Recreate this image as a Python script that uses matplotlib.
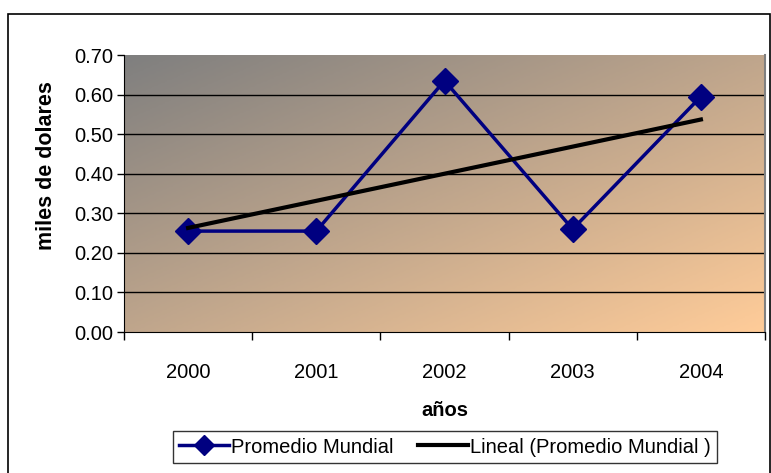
import numpy as np
import matplotlib
matplotlib.use("Agg")
import matplotlib.pyplot as plt
from matplotlib.colors import LinearSegmentedColormap
from matplotlib.patches import Rectangle

plt.rcParams['font.family'] = ['Liberation Sans', 'DejaVu Sans']

# data
anios = ['2000', '2001', '2002', '2003', '2004']
promedio = [0.255, 0.255, 0.635, 0.26, 0.595]
y_ticks = [0.0, 0.1, 0.2, 0.3, 0.4, 0.5, 0.6, 0.7]

x = np.arange(len(anios))
# linear trendline like Excel's "Lineal"
m, b = np.polyfit(x, promedio, 1)
tendencia = m * x + b

fig = plt.figure(figsize=(7.71, 4.73), dpi=100)
ax = fig.add_axes([124 / 771, 1 - 332 / 473, (765 - 124) / 771, (332 - 55) / 473])

# outer chart frame
fig.patches.append(Rectangle((8 / 771, -0.01), 762 / 771, 1 - 14 / 473 + 0.01,
                             transform=fig.transFigure, fill=False,
                             edgecolor='black', linewidth=1.2))

# diagonal gradient background (gray top-left -> peach bottom-right)
cmap = LinearSegmentedColormap.from_list('grad', ['#7f7f7f', '#ffcc99'])
u, v = np.meshgrid(np.linspace(0, 1, 300), np.linspace(0, 1, 200))
ax.imshow((u + v) / 2, cmap=cmap, extent=[0, 1, 0, 1], transform=ax.transAxes,
          aspect='auto', zorder=0)

ax.set_xlim(-0.5, 4.5)
ax.set_ylim(0, 0.7)

for yt in y_ticks[1:-1]:
    ax.axhline(yt, color='black', linewidth=1, zorder=1)

ax.plot(x, promedio, color='#000080', linewidth=2.5, marker='D', markersize=13,
        zorder=3, label='Promedio Mundial')
ax.plot(x, tendencia, color='black', linewidth=3, zorder=4,
        label='Lineal (Promedio Mundial )')

ax.set_yticks(y_ticks)
ax.set_yticklabels([f'{t:.2f}' for t in y_ticks])
ax.set_xticks(x)
ax.set_xticklabels(anios)
ax.set_xticks(np.arange(-0.5, 5, 1), minor=True)
ax.tick_params(axis='x', which='major', length=0, pad=22, labelsize=14.5)
ax.tick_params(axis='x', which='minor', length=6, width=1)
ax.tick_params(axis='y', length=5, width=1, labelsize=14.5, pad=3)

ax.spines['top'].set_visible(False)
ax.spines['right'].set_color('#808080')
ax.spines['right'].set_linewidth(1.5)

ax.set_ylabel('miles de dolares', fontsize=15.5, fontweight='bold')
ax.yaxis.set_label_coords(-0.105, 0.6)
ax.set_xlabel('años', fontsize=14.5, fontweight='bold', labelpad=14)

leg = fig.legend(loc='center', bbox_to_anchor=(445 / 771, 1 - 447 / 473), ncol=2,
                 fontsize=14.5, frameon=True, fancybox=False, edgecolor='black',
                 borderpad=0.3, handlelength=2.5, columnspacing=1.2, handletextpad=0.1,
                 markerscale=0.75)
leg.get_frame().set_linewidth(1)

fig.savefig('out.png', dpi=100)
